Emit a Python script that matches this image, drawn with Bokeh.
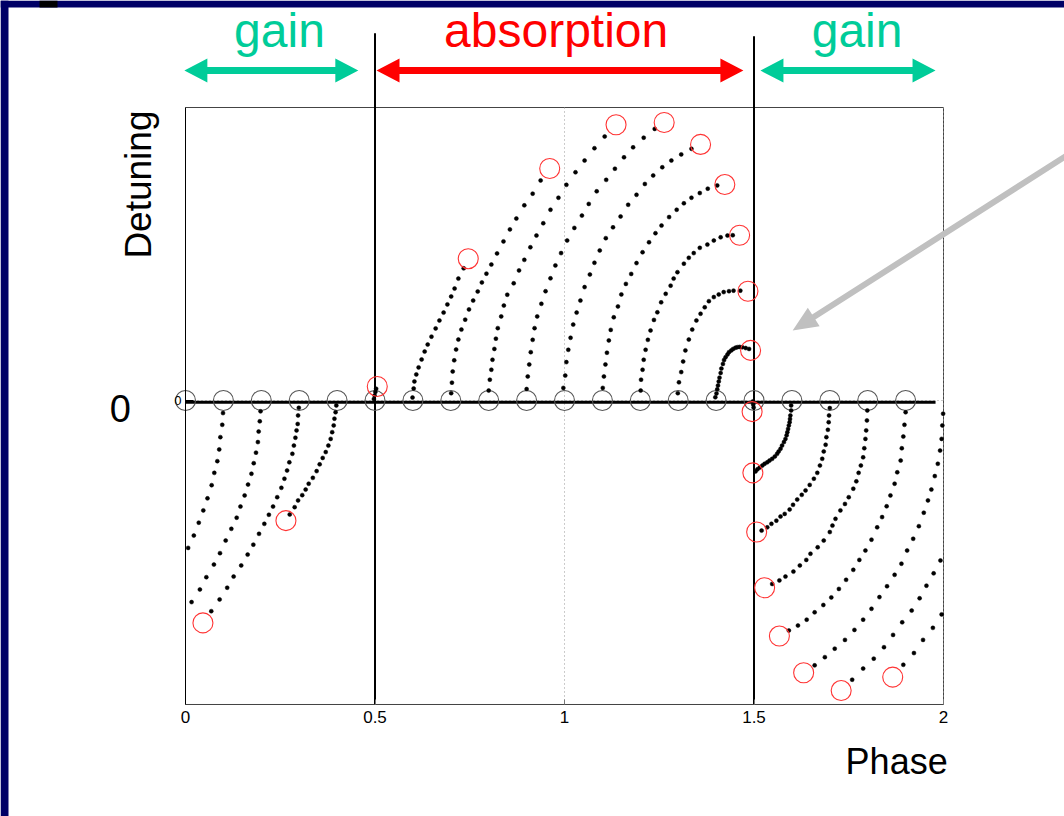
import math
from bokeh.plotting import figure
from bokeh.models import Range1d, FixedTicker, Label, BoxAnnotation, GlobalInlineStyleSheet
from bokeh.embed import file_html
from bokeh.resources import INLINE

FONT = "Liberation Sans"

# ---------------- data (phase in units of pi, detuning in arbitrary units) -------------
start_phase = [0.0, 0.1, 0.2, 0.3, 0.4, 0.5, 0.6, 0.7, 0.8, 0.9,
               1.0, 1.1, 1.2, 1.3, 1.4, 1.5, 1.6, 1.7, 1.8, 1.9]
start_detuning = [0, 0, 0, 0, 0, 0, 0, 0, 0, 0, 0, 0, 0, 0, 0, 0, 0, 0, 0, 0]

end_phase = [1.631, 1.730, 1.866, 0.046, 0.265, 0.506, 0.746, 0.961, 1.136, 1.263,
             1.359, 1.423, 1.462, 1.484, 1.491, 1.495, 1.497, 1.507, 1.528, 1.567]
end_detuning = [-0.929, -0.990, -0.944, -0.759, -0.410, 0.048, 0.484, 0.792, 0.941, 0.949,
                0.874, 0.737, 0.564, 0.373, 0.171, -0.038, -0.247, -0.449, -0.639, -0.804]

traj_00_phase = [1.999, 1.997, 1.995, 1.991, 1.985, 1.977, 1.968, 1.959, 1.948, 1.935, 1.920, 1.904,
                 1.889, 1.871, 1.851, 1.831, 1.810, 1.788, 1.765, 1.740, 1.713, 1.687, 1.660]
traj_00_detuning = [-0.045, -0.085, -0.131, -0.171, -0.216, -0.258, -0.304, -0.341, -0.383, -0.429, -0.472,
                    -0.512, -0.557, -0.595, -0.634, -0.671, -0.711, -0.748, -0.783, -0.817, -0.847, -0.876, -0.904]

traj_01_phase = [0.099, 0.097, 0.092, 0.089, 0.084, 0.076, 0.069, 0.058, 0.047, 0.035, 0.022, 0.007,
                 1.992, 1.974, 1.955, 1.937, 1.916, 1.891, 1.867, 1.843, 1.816, 1.788, 1.759]
traj_01_detuning = [-0.043, -0.083, -0.125, -0.167, -0.207, -0.247, -0.289, -0.334, -0.375, -0.417, -0.461, -0.503,
                    -0.546, -0.590, -0.632, -0.675, -0.717, -0.757, -0.800, -0.842, -0.881, -0.915, -0.953]

traj_02_phase = [0.198, 0.196, 0.193, 0.191, 0.186, 0.180, 0.174, 0.165, 0.156, 0.145, 0.135, 0.121,
                 0.106, 0.091, 0.075, 0.055, 0.038, 0.016, 1.995, 1.972, 1.946, 1.922, 1.894]
traj_02_detuning = [-0.037, -0.071, -0.106, -0.142, -0.178, -0.214, -0.250, -0.287, -0.324, -0.362, -0.400, -0.438,
                    -0.478, -0.521, -0.560, -0.603, -0.645, -0.688, -0.730, -0.776, -0.817, -0.862, -0.902]

traj_03_phase = [0.299, 0.297, 0.296, 0.293, 0.290, 0.286, 0.282, 0.274, 0.268, 0.261, 0.253, 0.242,
                 0.231, 0.220, 0.208, 0.194, 0.179, 0.164, 0.147, 0.127, 0.110, 0.090, 0.068]
traj_03_detuning = [-0.025, -0.051, -0.080, -0.102, -0.127, -0.154, -0.182, -0.211, -0.239, -0.267, -0.298, -0.330,
                    -0.362, -0.390, -0.421, -0.455, -0.492, -0.526, -0.563, -0.601, -0.639, -0.679, -0.719]

traj_04_phase = [0.398, 0.396, 0.393, 0.391, 0.387, 0.383, 0.377, 0.370, 0.362, 0.354, 0.346, 0.336,
                 0.325, 0.317, 0.308, 0.297, 0.288, 0.275]
traj_04_detuning = [-0.017, -0.040, -0.062, -0.085, -0.108, -0.131, -0.154, -0.176, -0.196, -0.218, -0.241, -0.264,
                    -0.284, -0.304, -0.323, -0.341, -0.364, -0.389]

traj_05_phase = [0.497, 0.499, 0.501, 0.503]
traj_05_detuning = [0.005, 0.017, 0.029, 0.040]

traj_06_phase = [0.599, 0.602, 0.604, 0.609, 0.615, 0.623, 0.631, 0.639, 0.649, 0.660, 0.670, 0.681,
                 0.691, 0.701, 0.710, 0.720, 0.734]
traj_06_detuning = [0.010, 0.041, 0.065, 0.089, 0.113, 0.140, 0.167, 0.191, 0.218, 0.246, 0.273, 0.300,
                    0.328, 0.355, 0.382, 0.416, 0.451]

traj_07_phase = [0.701, 0.703, 0.705, 0.709, 0.714, 0.720, 0.728, 0.738, 0.748, 0.759, 0.771, 0.782,
                 0.794, 0.807, 0.822, 0.839, 0.856, 0.873, 0.894, 0.916, 0.937]
traj_07_detuning = [0.025, 0.061, 0.099, 0.137, 0.174, 0.208, 0.242, 0.276, 0.311, 0.341, 0.372, 0.403,
                    0.433, 0.464, 0.502, 0.543, 0.584, 0.621, 0.666, 0.706, 0.751]

traj_08_phase = [0.800, 0.803, 0.807, 0.810, 0.815, 0.819, 0.824, 0.833, 0.840, 0.849, 0.866, 0.880,
                 0.894, 0.910, 0.926, 0.944, 0.963, 0.984, 1.005, 1.029, 1.053, 1.079, 1.106]
traj_08_detuning = [0.034, 0.071, 0.105, 0.139, 0.176, 0.211, 0.247, 0.287, 0.324, 0.361, 0.400, 0.444,
                    0.480, 0.523, 0.563, 0.605, 0.651, 0.692, 0.736, 0.779, 0.819, 0.861, 0.901]

traj_09_phase = [0.900, 0.903, 0.907, 0.911, 0.916, 0.921, 0.928, 0.939, 0.950, 0.963, 0.976, 0.991,
                 1.007, 1.026, 1.046, 1.064, 1.085, 1.110, 1.133, 1.157, 1.181, 1.209, 1.238]
traj_09_detuning = [0.039, 0.082, 0.123, 0.165, 0.207, 0.247, 0.287, 0.330, 0.373, 0.417, 0.461, 0.503,
                    0.546, 0.589, 0.631, 0.671, 0.714, 0.753, 0.791, 0.830, 0.864, 0.897, 0.927]

traj_10_phase = [0.997, 1.002, 1.005, 1.010, 1.016, 1.023, 1.032, 1.042, 1.053, 1.067, 1.079, 1.093,
                 1.109, 1.128, 1.148, 1.168, 1.190, 1.212, 1.234, 1.258, 1.282, 1.308, 1.335]
traj_10_detuning = [0.043, 0.085, 0.131, 0.173, 0.214, 0.259, 0.300, 0.341, 0.387, 0.430, 0.470, 0.512,
                    0.554, 0.591, 0.628, 0.668, 0.702, 0.739, 0.768, 0.796, 0.819, 0.840, 0.859]

traj_11_phase = [1.101, 1.104, 1.108, 1.112, 1.117, 1.122, 1.130, 1.141, 1.150, 1.162, 1.176, 1.190,
                 1.206, 1.223, 1.240, 1.256, 1.276, 1.296, 1.315, 1.335, 1.357, 1.378, 1.403]
traj_11_detuning = [0.043, 0.082, 0.123, 0.163, 0.205, 0.241, 0.284, 0.321, 0.362, 0.398, 0.432, 0.469,
                    0.506, 0.540, 0.571, 0.597, 0.626, 0.651, 0.673, 0.692, 0.708, 0.723, 0.734]

traj_12_phase = [1.201, 1.202, 1.206, 1.209, 1.214, 1.220, 1.227, 1.236, 1.245, 1.255, 1.267, 1.280,
                 1.288, 1.298, 1.315, 1.328, 1.341, 1.357, 1.377, 1.394, 1.412, 1.430, 1.444]
traj_12_detuning = [0.034, 0.071, 0.105, 0.139, 0.173, 0.207, 0.239, 0.275, 0.301, 0.335, 0.364, 0.392,
                    0.416, 0.438, 0.467, 0.487, 0.503, 0.521, 0.532, 0.546, 0.557, 0.563, 0.564]

traj_13_phase = [1.299, 1.302, 1.308, 1.313, 1.319, 1.328, 1.337, 1.348, 1.359, 1.370, 1.381, 1.394,
                 1.407, 1.420, 1.434, 1.446, 1.464]
traj_13_detuning = [0.025, 0.062, 0.097, 0.133, 0.171, 0.208, 0.242, 0.273, 0.296, 0.318, 0.339, 0.353,
                    0.362, 0.370, 0.373, 0.375, 0.375]

traj_14_phase = [1.398, 1.401, 1.403, 1.405, 1.407, 1.409, 1.412, 1.414, 1.418, 1.421, 1.425, 1.430,
                 1.434, 1.440, 1.445, 1.451, 1.456, 1.462, 1.469, 1.478, 1.487]
traj_14_detuning = [0.011, 0.024, 0.038, 0.051, 0.065, 0.078, 0.094, 0.109, 0.125, 0.138, 0.148, 0.157,
                    0.165, 0.171, 0.176, 0.180, 0.182, 0.183, 0.182, 0.179, 0.176]

traj_15_phase = [1.497, 1.498, 1.499]
traj_15_detuning = [-0.003, -0.014, -0.024]

traj_16_phase = [1.598, 1.598, 1.596, 1.595, 1.594, 1.592, 1.590, 1.588, 1.586, 1.583, 1.579, 1.574,
                 1.570, 1.565, 1.561, 1.555, 1.548, 1.541, 1.535, 1.528, 1.522, 1.515, 1.509, 1.504]
traj_16_detuning = [-0.017, -0.034, -0.051, -0.063, -0.074, -0.085, -0.097, -0.108, -0.119, -0.131, -0.142, -0.154,
                    -0.165, -0.174, -0.182, -0.191, -0.199, -0.205, -0.211, -0.216, -0.222, -0.229, -0.235, -0.242]

traj_17_phase = [1.700, 1.698, 1.697, 1.695, 1.691, 1.689, 1.684, 1.680, 1.674, 1.667, 1.658, 1.647,
                 1.636, 1.626, 1.614, 1.603, 1.594, 1.581, 1.570, 1.559, 1.546, 1.535, 1.520]
traj_17_detuning = [-0.026, -0.051, -0.074, -0.100, -0.125, -0.151, -0.174, -0.199, -0.222, -0.247, -0.267, -0.288,
                    -0.307, -0.322, -0.338, -0.356, -0.372, -0.387, -0.396, -0.410, -0.421, -0.433, -0.444]

traj_18_phase = [1.799, 1.798, 1.796, 1.794, 1.791, 1.788, 1.782, 1.776, 1.770, 1.762, 1.750, 1.740,
                 1.728, 1.715, 1.707, 1.700, 1.684, 1.668, 1.649, 1.638, 1.621, 1.604, 1.583, 1.567, 1.548]
traj_18_detuning = [-0.034, -0.068, -0.102, -0.131, -0.163, -0.194, -0.222, -0.247, -0.276, -0.301, -0.330, -0.353,
                    -0.375, -0.404, -0.427, -0.449, -0.478, -0.501, -0.523, -0.544, -0.563, -0.584, -0.601, -0.614, -0.626]

traj_19_phase = [1.900, 1.897, 1.894, 1.890, 1.887, 1.878, 1.871, 1.860, 1.850, 1.838, 1.825, 1.810,
                 1.794, 1.778, 1.762, 1.743, 1.724, 1.704, 1.683, 1.660, 1.639, 1.616, 1.592]
traj_19_detuning = [-0.040, -0.083, -0.123, -0.163, -0.205, -0.245, -0.284, -0.324, -0.361, -0.398, -0.433, -0.475,
                    -0.512, -0.544, -0.578, -0.612, -0.643, -0.672, -0.698, -0.723, -0.748, -0.768, -0.785]

x_ticks = [0, 0.5, 1, 1.5, 2]
x_tick_labels = ["0", "0.5", "1", "1.5", "2"]

region_names = ["gain", "absorption", "gain"]
region_colors = ["#00CC99", "#FF0000", "#00CC99"]
region_label_x = [0.248, 0.978, 1.772]
region_arrow_start = [-0.003, 0.504, 1.517]
region_arrow_end = [0.456, 1.472, 1.979]
boundary_phase = [0.5, 1.5]
boundary_top = [1.253, 1.243]

trajectories = [
    (traj_00_phase, traj_00_detuning), (traj_01_phase, traj_01_detuning),
    (traj_02_phase, traj_02_detuning), (traj_03_phase, traj_03_detuning),
    (traj_04_phase, traj_04_detuning), (traj_05_phase, traj_05_detuning),
    (traj_06_phase, traj_06_detuning), (traj_07_phase, traj_07_detuning),
    (traj_08_phase, traj_08_detuning), (traj_09_phase, traj_09_detuning),
    (traj_10_phase, traj_10_detuning), (traj_11_phase, traj_11_detuning),
    (traj_12_phase, traj_12_detuning), (traj_13_phase, traj_13_detuning),
    (traj_14_phase, traj_14_detuning), (traj_15_phase, traj_15_detuning),
    (traj_16_phase, traj_16_detuning), (traj_17_phase, traj_17_detuning),
    (traj_18_phase, traj_18_detuning), (traj_19_phase, traj_19_detuning),
]

# ---------------- layout constants -------------
W, H = 1064, 816                 # figure fills the window (page margin removed below)
X_MIN, X_MAX = 0.0, 2.0          # plot box in data units
Y_MIN, Y_MAX = -1.0375, 1.0
PX_X, PX_Y = 379.0, 293.0        # pixels per data unit
BOX_LEFT, BOX_TOP = 185, 107     # plot box position inside the figure (px)
FRAME_LEFT_PX, FRAME_TOP_PX = 8, 7   # slide border widths (px)

# the whole figure is one frame, so every element is drawn inside it
x_lo = X_MIN - BOX_LEFT / PX_X
x_hi = x_lo + W / PX_X
y_hi = Y_MAX + BOX_TOP / PX_Y
y_lo = y_hi - H / PX_Y

p = figure(width=W, height=H, x_range=Range1d(x_lo, x_hi), y_range=Range1d(y_lo, y_hi),
           output_backend="svg", toolbar_location=None, title=None, min_border=0)
p.background_fill_color = "white"
p.border_fill_color = "white"
p.outline_line_color = None
p.xgrid.visible = False
p.ygrid.visible = False

p.stylesheets = [GlobalInlineStyleSheet(css=(
    "html, body { margin: 0 !important; padding: 0 !important; overflow: hidden !important; }"))]

# slide border (navy strips at left and top, small black tab)
p.add_layout(BoxAnnotation(left=x_lo, right=x_lo + FRAME_LEFT_PX / PX_X, fill_color="#000066",
                           fill_alpha=1, line_color=None))
p.add_layout(BoxAnnotation(bottom=y_hi - FRAME_TOP_PX / PX_Y, fill_color="#000066",
                           fill_alpha=1, line_color=None))
p.add_layout(BoxAnnotation(left=x_lo + 39 / PX_X, right=x_lo + 57 / PX_X,
                           bottom=y_hi - FRAME_TOP_PX / PX_Y, fill_color="#000000",
                           fill_alpha=1, line_color=None))

# plot box
p.quad(left=[X_MIN], right=[X_MAX], bottom=[Y_MIN], top=[Y_MAX], fill_color=None,
       line_color="#444444", line_width=1)

# dotted grid lines (at the x ticks, and at zero detuning)
p.segment(x0=x_ticks, y0=[Y_MIN] * len(x_ticks), x1=x_ticks, y1=[Y_MAX] * len(x_ticks),
          line_color="#999999", line_dash="1 3", line_width=1)
p.segment(x0=[X_MIN], y0=[0], x1=[X_MAX], y1=[0], line_color="#999999", line_dash="1 3", line_width=1)

# x axis along the bottom of the box
p.xaxis.fixed_location = Y_MIN
p.xaxis.bounds = (X_MIN, X_MAX)
p.xaxis.ticker = FixedTicker(ticks=x_ticks)
p.xaxis.major_label_overrides = {t: l for t, l in zip(x_ticks, x_tick_labels)}
p.xaxis.major_label_text_font = FONT
p.xaxis.major_label_text_font_size = "17px"
p.xaxis.major_label_text_color = "black"
p.xaxis.major_tick_in = 5
p.xaxis.major_tick_out = 0
p.xaxis.minor_tick_line_color = None
p.xaxis.major_tick_line_color = "#777777"
p.xaxis.axis_line_color = "#444444"
p.xaxis.major_label_standoff = 7

# y axis along the left of the box (only zero is marked)
p.yaxis.fixed_location = X_MIN
p.yaxis.bounds = (Y_MIN, Y_MAX)
p.yaxis.ticker = FixedTicker(ticks=[0])
p.yaxis.major_label_overrides = {0: "0"}
p.yaxis.major_label_text_font = FONT
p.yaxis.major_label_text_font_size = "13px"
p.yaxis.major_label_text_color = "black"
p.yaxis.major_tick_in = 8
p.yaxis.major_tick_out = 0
p.yaxis.minor_tick_line_color = None
p.yaxis.major_tick_line_color = "black"
p.yaxis.axis_line_color = "black"
p.yaxis.major_label_standoff = 4

# thick zero-detuning line
p.segment(x0=[X_MIN], y0=[-0.006], x1=[region_arrow_end[-1]], y1=[-0.006], line_color="black",
          line_width=3)

# phase boundaries, extending above the box
p.segment(x0=boundary_phase, y0=boundary_top, x1=boundary_phase, y1=[Y_MIN] * len(boundary_phase),
          line_color="black", line_width=2)

# start circles
p.scatter(start_phase, start_detuning, marker="circle", size=20, fill_alpha=0,
          line_color="#555555", line_width=1.1)

# trajectories (dots)
for tx, ty in trajectories:
    n = min(len(tx), len(ty))
    p.scatter(tx[:n], ty[:n], marker="circle", size=4, fill_color="black", line_color="black",
              line_width=0.5)

# end circles
p.scatter(end_phase, end_detuning, marker="circle", size=20, fill_alpha=0,
          line_color="#FF3333", line_width=1.1)


def double_arrow(xa, xb, y0, head_len=23, head_half=12, shaft_half=3.5):
    hl, hw, sh = head_len / PX_X, head_half / PX_Y, shaft_half / PX_Y
    xs = [xa, xa + hl, xa + hl, xb - hl, xb - hl, xb, xb - hl, xb - hl, xa + hl, xa + hl]
    ys = [y0, y0 + hw, y0 + sh, y0 + sh, y0 + hw, y0, y0 - hw, y0 - sh, y0 - sh, y0 - hw]
    return xs, ys


def single_arrow(x0, y0, x1, y1, head_len=25, head_half=11, shaft_half=3):
    dx, dy = (x1 - x0) * PX_X, (y1 - y0) * PX_Y
    L = math.hypot(dx, dy)
    ux, uy = dx / L, dy / L
    nx, ny = -uy, ux
    bx, by = dx - ux * head_len, dy - uy * head_len
    pts = [(nx * shaft_half, ny * shaft_half), (bx + nx * shaft_half, by + ny * shaft_half),
           (bx + nx * head_half, by + ny * head_half), (dx, dy),
           (bx - nx * head_half, by - ny * head_half), (bx - nx * shaft_half, by - ny * shaft_half),
           (-nx * shaft_half, -ny * shaft_half)]
    return [x0 + q / PX_X for q, _ in pts], [y0 + r / PX_Y for _, r in pts]


# region arrows & labels
arrow_xs, arrow_ys = [], []
for a0, a1 in zip(region_arrow_start, region_arrow_end):
    xs, ys = double_arrow(a0, a1, 1.126)
    arrow_xs.append(xs)
    arrow_ys.append(ys)
p.patches(xs=arrow_xs, ys=arrow_ys, fill_color=region_colors, line_color=None)
for name, col, lx in zip(region_names, region_colors, region_label_x):
    p.add_layout(Label(x=lx, y=1.262, text=name, text_color=col, text_font=FONT,
                       text_font_size="48px", text_align="center", text_baseline="middle"))

# gray pointer arrow
gx, gy = single_arrow(2.33, 0.84, 1.602, 0.239)
p.patch(gx, gy, fill_color="#C0C0C0", line_color=None)

# axis texts
p.add_layout(Label(x=-0.124, y=0.737, text="Detuning", angle=math.pi / 2, text_font=FONT,
                   text_font_size="37px", text_align="center", text_baseline="middle",
                   text_color="black"))
p.add_layout(Label(x=-0.172, y=-0.027, text="0", text_font=FONT, text_font_size="38px",
                   text_align="center", text_baseline="middle", text_color="black"))
p.add_layout(Label(x=2.011, y=-1.233, text="Phase", text_font=FONT, text_font_size="36px",
                   text_align="right", text_baseline="middle", text_color="black"))

open("out.html", "w").write(file_html(p, INLINE))
